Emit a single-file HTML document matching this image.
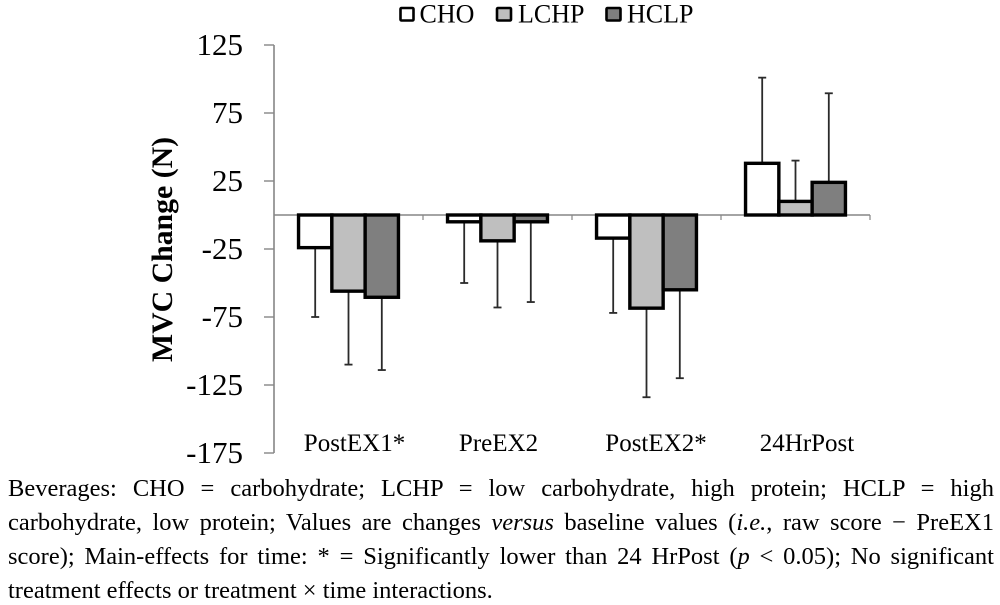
<!DOCTYPE html>
<html>
<head>
<meta charset="utf-8">
<style>
html,body{margin:0;padding:0;background:#fff;}
#page{position:relative;width:1000px;height:605px;overflow:hidden;background:#fff;font-family:"Liberation Serif",serif;color:#000;}
#chart{position:absolute;left:0;top:0;}
.cap{position:absolute;left:8px;width:986px;font-size:24.5px;line-height:34px;height:34px;text-align:justify;text-align-last:justify;white-space:nowrap;}
.cap.last{text-align-last:left;}
</style>
</head>
<body>
<div id="page">
<svg id="chart" width="1000" height="470" xmlns="http://www.w3.org/2000/svg"></svg>
<div class="cap" style="top:472px">Beverages: CHO = carbohydrate; LCHP = low carbohydrate, high protein; HCLP = high</div>
<div class="cap" style="top:506px">carbohydrate, low protein; Values are changes <i>versus</i> baseline values (<i>i.e.</i>, raw score − PreEX1</div>
<div class="cap" style="top:540px">score); Main-effects for time: * = Significantly lower than 24 HrPost (<i>p</i> &lt; 0.05); No significant</div>
<div class="cap last" style="top:574px">treatment effects or treatment × time interactions.</div>
</div>
<script>
const categories = ["PostEX1*", "PreEX2", "PostEX2*", "24HrPost"];
const seriesNames = ["CHO", "LCHP", "HCLP"];
const choValues = [-24, -5, -17, 38];
const lchpValues = [-56, -19, -68.5, 10];
const hclpValues = [-60.5, -5, -55, 24];
const choErrorEnds = [-75, -50, -72, 101];
const lchpErrorEnds = [-110, -68, -134, 40];
const hclpErrorEnds = [-114, -64, -120, 89.5];
const yTicks = [125, 75, 25, -25, -75, -125, -175];

const svg = document.getElementById('chart');
const NS = 'http://www.w3.org/2000/svg';
const plotLeft = 274, plotRight = 870, plotTop = 45, plotBottom = 453;
const yMin = -175, yMax = 125;
const fills = ['#ffffff', '#bfbfbf', '#7f7f7f'];
const legendBoxX = [400.5, 497, 606.5];
const legendBoxW = [13, 14, 14];
const legendTextX = [419.5, 518, 627];
const labelShift = [6, 1, 9.5, 11.5];
const values = [choValues, lchpValues, hclpValues];
const errorEnds = [choErrorEnds, lchpErrorEnds, hclpErrorEnds];

function yPos(v) { return plotBottom - (v - yMin) / (yMax - yMin) * (plotBottom - plotTop); }
function catStart(i) { return plotLeft + i * (plotRight - plotLeft) / categories.length; }
function catWidth() { return (plotRight - plotLeft) / categories.length; }
function make(tag, attrs) {
  const el = document.createElementNS(NS, tag);
  for (const k in attrs) el.setAttribute(k, attrs[k]);
  svg.appendChild(el);
  return el;
}

/* axes */
const yAxis = make('line', {x1: plotLeft, x2: plotLeft, y1: plotTop, y2: plotBottom, stroke: '#868686', 'stroke-width': 1.6});



yTicks.forEach(function (t) {
  const tick = make('line', {x1: plotLeft - 10, x2: plotLeft, y1: yPos(t), y2: yPos(t), stroke: '#868686', 'stroke-width': 1.4});
  
  
  const label = make('text', {x: 243, y: yPos(t) + 10, 'text-anchor': 'end', 'font-size': 31, 'font-family': '"Liberation Serif", serif'});
  label.textContent = String(t);
  
  
});

const yTitle = make('text', {transform: 'translate(172,249.5) rotate(-90)', 'text-anchor': 'middle', 'font-size': 29.8, 'font-weight': 'bold', 'font-family': '"Liberation Serif", serif'});
yTitle.textContent = 'MVC Change (N)';



/* zero line and category ticks (behind bars) */
const zeroLine = make('line', {x1: plotLeft, x2: plotRight, y1: yPos(0), y2: yPos(0), stroke: '#868686', 'stroke-width': 1.4});



categories.forEach(function (c, i) {
  const tick = make('line', {x1: catStart(i + 1), x2: catStart(i + 1), y1: yPos(0), y2: yPos(0) + 5, stroke: '#868686', 'stroke-width': 1.2});
  
  
  const label = make('text', {x: catStart(i) + catWidth() / 2 + labelShift[i], y: 451, 'text-anchor': 'middle', 'font-size': 25, 'font-family': '"Liberation Serif", serif'});
  label.textContent = c;
  
  
});

/* error bars (behind bars) */
categories.forEach(function (c, i) {
  const barW = 33.3;
  const start = catStart(i) + (catWidth() - barW * 3) / 2;
  values.forEach(function (vals, s) {
    const cx = start + barW * (s + 0.5);
    const stem = make('line', {x1: cx, x2: cx, y1: yPos(vals[i]), y2: yPos(errorEnds[s][i]), stroke: '#2a2a2a', 'stroke-width': 1.8});
    
    
    const cap = make('line', {x1: cx - 4, x2: cx + 4, y1: yPos(errorEnds[s][i]), y2: yPos(errorEnds[s][i]), stroke: '#2a2a2a', 'stroke-width': 1.8});
    
    
  });
});

/* bars */
categories.forEach(function (c, i) {
  const barW = 33.3;
  const start = catStart(i) + (catWidth() - barW * 3) / 2;
  values.forEach(function (vals, s) {
    const y0 = yPos(0), y1 = yPos(vals[i]);
    const bar = make('rect', {x: start + barW * s, y: Math.min(y0, y1), width: barW, height: Math.abs(y1 - y0), fill: fills[s], stroke: '#000', 'stroke-width': 3.4});
    
    
  });
});

/* legend */
seriesNames.forEach(function (n, s) {
  const box = make('rect', {x: legendBoxX[s], y: 8, width: legendBoxW[s], height: 12.5, fill: fills[s], stroke: '#000', 'stroke-width': 2.6, rx: 1});
  
  
  const label = make('text', {x: legendTextX[s], y: 22.5, 'font-size': 26, 'font-family': '"Liberation Serif", serif'});
  label.textContent = n;
  
  
});
</script>
</body>
</html>
